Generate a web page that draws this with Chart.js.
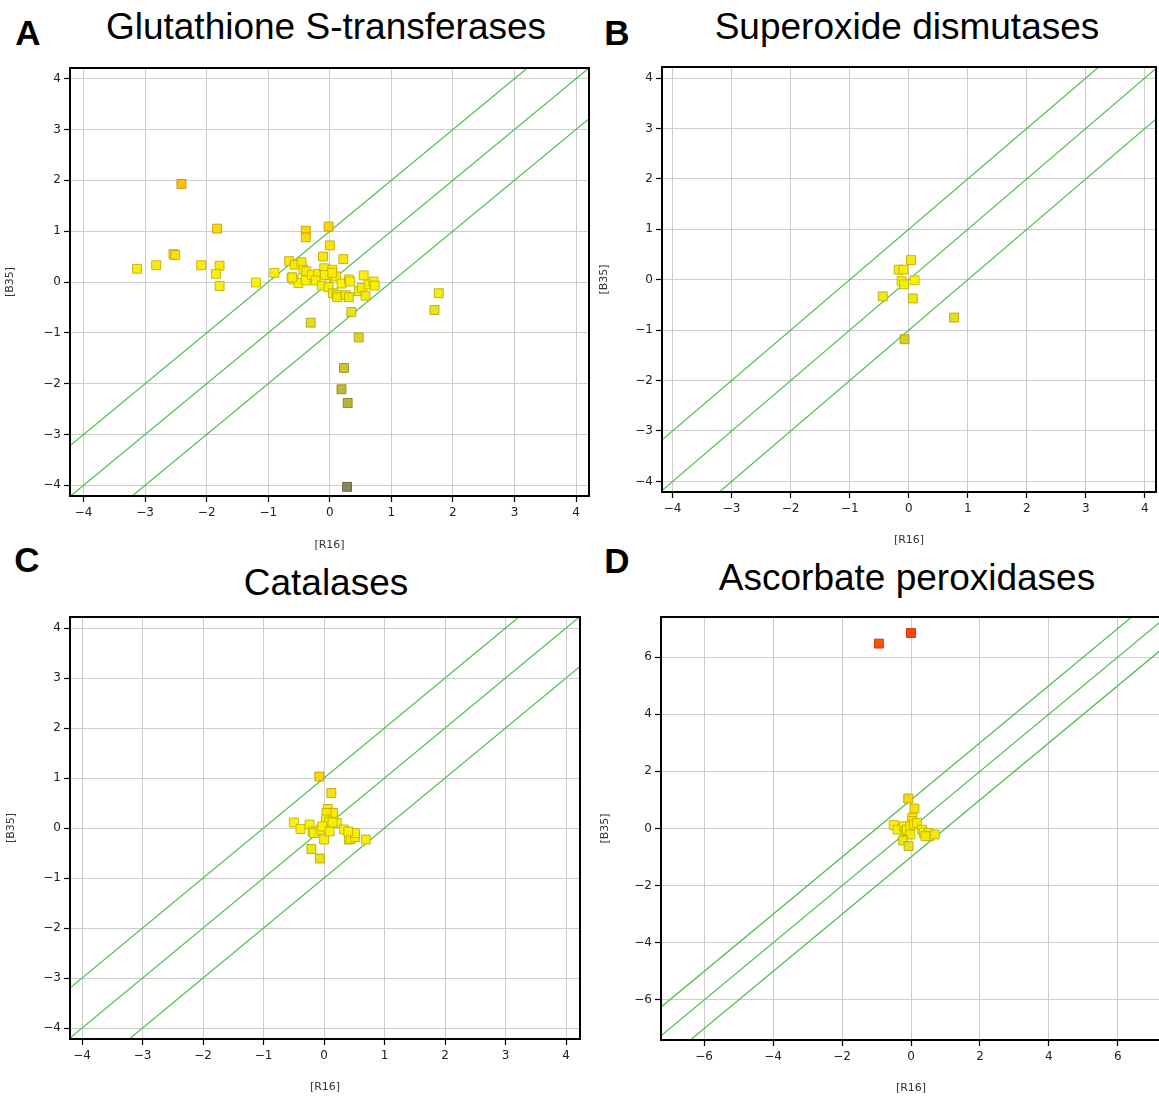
<!DOCTYPE html>
<html>
<head>
<meta charset="utf-8">
<title>Expression scatter plots</title>
<script src="https://cdn.jsdelivr.net/npm/chart.js@4.4.1/dist/chart.umd.min.js"></script>
<style>
  html, body { margin: 0; padding: 0; background: #fff; overflow: hidden; }
  body { width: 1159px; height: 1097px; position: relative; }
  canvas { position: absolute; }
  .title {
    position: absolute; transform: translate(-50%, -50%);
    font-family: "Liberation Sans", Arial, sans-serif; font-size: 37px;
    color: #000; white-space: nowrap;
  }
  .letter {
    position: absolute; transform: translate(-50%, -50%);
    font-family: "Liberation Sans", Arial, sans-serif; font-size: 35px;
    font-weight: bold; color: #000;
  }
</style>
</head>
<body>
<div class="letter" style="left:28px;top:33px">A</div>
<div class="letter" style="left:617px;top:33px">B</div>
<div class="letter" style="left:27px;top:560px">C</div>
<div class="letter" style="left:617px;top:561px">D</div>
<div class="title" style="left:326px;top:27px">Glutathione S-transferases</div>
<div class="title" style="left:907px;top:27px">Superoxide dismutases</div>
<div class="title" style="left:326px;top:583px">Catalases</div>
<div class="title" style="left:907px;top:578px">Ascorbate peroxidases</div>

<canvas id="chartA"></canvas>
<canvas id="chartB"></canvas>
<canvas id="chartC"></canvas>
<canvas id="chartD"></canvas>

<script>
// =============================
// Data
// =============================
const xLabel = "[R16]";
const yLabel = "[B35]";

const ticksSmall = [-4, -3, -2, -1, 0, 1, 2, 3, 4];
const ticksWide = [-6, -4, -2, 0, 2, 4, 6];
const diagOffsets = [1, 0, -1];

// A: Glutathione S-transferases
const gstR16 = [-2.41, -1.83, -3.13, -2.82, -2.54, -2.51, -2.09, -1.79, -1.85, -1.79,
  -1.20, -0.90, -0.39, -0.39, -0.02, 0.00, -0.11, 0.22, -0.66, -0.57,
  -0.46, -0.43, -0.38, -0.62, -0.59, -0.51, -0.39, -0.29, -0.19, -0.23,
  -0.09, 0.04, 0.00, 0.10, -0.13, -0.02, 0.05, 0.11, 0.12, 0.19,
  0.31, 0.33, 0.26, 0.31, 0.35, 0.55, 0.47, 0.52, 0.58, 0.63,
  0.71, 0.73, -0.31, 0.47, 1.77, 1.70, 0.23, 0.19, 0.29, 0.28,
  -0.08, 0.04, -0.61];
const gstB35 = [1.93, 1.05, 0.26, 0.33, 0.55, 0.53, 0.33, 0.32, 0.16, -0.08,
  -0.01, 0.18, 1.01, 0.88, 1.09, 0.72, 0.50, 0.45, 0.41, 0.34,
  0.39, 0.24, 0.21, 0.09, 0.05, -0.02, 0.03, 0.14, 0.16, 0.03,
  0.27, 0.24, 0.13, 0.11, -0.07, -0.10, -0.22, -0.25, -0.30, -0.03,
  0.05, 0.01, -0.26, -0.30, -0.59, 0.13, -0.18, -0.12, -0.27, -0.05,
  0.01, -0.07, -0.80, -1.09, -0.22, -0.55, -1.69, -2.11, -2.38, -4.03,
  0.14, 0.18, 0.09];

// B: Superoxide dismutases
const sodR16 = [0.04, -0.17, -0.09, -0.12, -0.08, 0.10, -0.44, 0.07, 0.77, -0.07];
const sodB35 = [0.39, 0.20, 0.20, -0.03, -0.09, -0.01, -0.33, -0.37, -0.75, -1.18];

// C: Catalases
const catR16 = [-0.08, 0.12, 0.06, 0.15, 0.04, 0.03, 0.08, 0.21, -0.50, -0.39,
  -0.24, -0.19, -0.17, -0.06, -0.03, 0.00, 0.09, 0.14, 0.33, 0.41,
  0.44, 0.51, 0.51, 0.40, 0.69, -0.21, -0.07];
const catB35 = [1.03, 0.70, 0.38, 0.30, 0.30, 0.17, 0.13, 0.10, 0.11, -0.02,
  0.07, -0.07, -0.10, -0.03, 0.03, -0.23, -0.07, 0.11, -0.03, -0.23,
  -0.22, -0.18, -0.10, -0.07, -0.23, -0.42, -0.61];

// D: Ascorbate peroxidases
const apxR16 = [-0.93, 0.00, -0.08, 0.10, 0.04, 0.03, -0.50, -0.39, -0.21, -0.16,
  -0.12, -0.02, 0.08, 0.17, -0.02, 0.32, 0.37, 0.51, 0.53, 0.42,
  0.69, -0.23, -0.07];
const apxB35 = [6.47, 6.84, 1.05, 0.70, 0.37, 0.26, 0.12, -0.04, 0.08, -0.09,
  -0.04, 0.08, 0.14, 0.20, -0.21, -0.04, -0.15, -0.15, -0.27, -0.27,
  -0.21, -0.42, -0.62];

// =============================
// Helpers
// =============================
// yellow at 0, towards red when up-regulated, towards grey-olive when down
function pointRGB(y) {
  if (y >= 0) {
    const t = Math.min(1, y / 7);
    return [250 + 5 * t, 242 - 184 * t, 0];
  }
  const t = Math.min(1, -y / 4);
  return [250 - 120 * t, 242 - 114 * t, 95 * t];
}

function fillColor(ctx) {
  const p = ctx.raw;
  if (!p) return "#faf200";
  const [r, g, b] = pointRGB(p.y);
  return `rgba(${r | 0},${g | 0},${b | 0},0.95)`;
}

function edgeColor(ctx) {
  const p = ctx.raw;
  if (!p) return "#c0b800";
  const [r, g, b] = pointRGB(p.y);
  return `rgba(${(r * 0.78) | 0},${(g * 0.75) | 0},${(b * 0.6) | 0},0.9)`;
}

const fmtTick = v => v < 0 ? "\u2212" + Math.abs(v) : String(v);

const framePlugin = {
  id: "frame",
  afterDraw(chart) {
    const { ctx, chartArea: a } = chart;
    ctx.save();
    ctx.strokeStyle = "#000";
    ctx.lineWidth = 2;
    ctx.strokeRect(a.left, a.top, a.right - a.left, a.bottom - a.top);
    ctx.restore();
  }
};

function axis(min, max, ticks, label, pos, size) {
  return {
    type: "linear",
    position: pos,
    min: min,
    max: max,
    afterBuildTicks: s => { s.ticks = ticks.map(v => ({ value: v })); },
    afterFit: s => {
      // fixed box sizes, no extra room for edge labels
      if (pos === "bottom") s.height = size; else s.width = size;
      s.paddingTop = 0; s.paddingBottom = 0;
      s.paddingLeft = 0; s.paddingRight = 0;
    },
    grid: { color: "#cdcdcd", lineWidth: 1, tickLength: 6, tickColor: "#000", tickWidth: 1.2 },
    border: { display: false },
    ticks: {
      callback: fmtTick,
      color: "#222",
      font: { family: "DejaVu Sans", size: 12 },
      padding: pos === "bottom" ? 4 : 3,
      maxRotation: 0,
      autoSkip: false
    },
    title: {
      display: true,
      text: label,
      color: "#333",
      font: { family: "DejaVu Sans", size: 11 },
      padding: { top: 4, bottom: 4 }
    }
  };
}

// =============================
// Panels
// =============================
function makePanel(id, g, xs, ys, xr, yr, ticksX, ticksY) {
  const canvas = document.getElementById(id);
  canvas.width = g.w;
  canvas.height = g.h;
  canvas.style.left = g.left + "px";
  canvas.style.top = g.top + "px";
  canvas.style.width = g.w + "px";
  canvas.style.height = g.h + "px";

  const points = xs.map((x, i) => ({ x: x, y: ys[i] }));
  const lines = diagOffsets.map(off => ({
    data: [
      { x: xr[0] - 2, y: xr[0] - 2 + off },
      { x: xr[1] + 2, y: xr[1] + 2 + off }
    ],
    showLine: true,
    borderColor: "#4cbd4c",
    borderWidth: 1.2,
    pointRadius: 0,
    pointHoverRadius: 0
  }));

  return new Chart(canvas, {
    type: "scatter",
    data: {
      datasets: [{
        data: points,
        pointStyle: "rect",
        pointRadius: 6.3,
        pointHoverRadius: 6.3,
        borderWidth: 1,
        backgroundColor: fillColor,
        borderColor: edgeColor
      }].concat(lines)
    },
    options: {
      responsive: false,
      animation: false,
      layout: { autoPadding: false, padding: { top: 4, right: 4, left: 0, bottom: 0 } },
      plugins: { legend: { display: false }, tooltip: { enabled: false } },
      scales: {
        x: axis(xr[0], xr[1], ticksX, xLabel, "bottom", g.xh),
        y: axis(yr[0], yr[1], ticksY, yLabel, "left", g.yw)
      }
    },
    plugins: [framePlugin]
  });
}

makePanel("chartA", { left: 0, top: 64, w: 593, h: 492, xh: 60, yw: 70 },
  gstR16, gstB35, [-4.22, 4.21], [-4.21, 4.21], ticksSmall, ticksSmall);
makePanel("chartB", { left: 594, top: 63, w: 566, h: 488, xh: 59, yw: 68 },
  sodR16, sodB35, [-4.18, 4.19], [-4.21, 4.22], ticksSmall, ticksSmall);
makePanel("chartC", { left: 1, top: 613, w: 583, h: 485, xh: 59, yw: 69 },
  catR16, catB35, [-4.2, 4.23], [-4.22, 4.22], ticksSmall, ticksSmall);
makePanel("chartD", { left: 595, top: 613, w: 570, h: 486, xh: 59, yw: 66 },
  apxR16, apxB35, [-7.25, 7.25], [-7.4, 7.4], ticksWide, ticksWide);
</script>
</body>
</html>
